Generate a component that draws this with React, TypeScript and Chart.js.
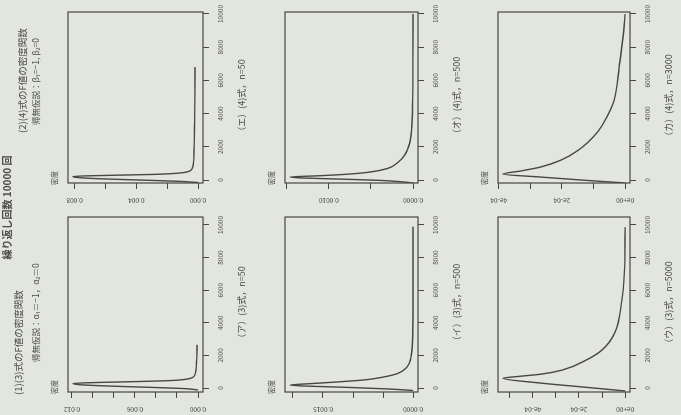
import React, { useEffect, useRef } from "react";
import { Chart, registerables } from "chart.js";

Chart.register(...registerables);

// ---------- data (page orientation: x = F value, y = density) ----------
const F_TICKS = [0, 2000, 4000, 6000, 8000, 10000];

// (ア) (3)式, n=50
const A_F = [-120, -40, 40, 120, 200, 280, 340, 400, 460, 540, 650, 850, 1200, 1700, 2200, 2650];
const A_D = [0, 0.0012, 0.0045, 0.0085, 0.0112, 0.0119, 0.0095, 0.0055, 0.0025, 0.0011, 0.0005, 0.00028, 0.00018, 0.00013, 0.0001, 0.00009];
const A_TICKS = [0, 0.002, 0.004, 0.006, 0.008, 0.01, 0.012];
const A_LABEL_VALS = [0, 0.006, 0.012];
const A_LABELS = ["0.000", "0.006", "0.012"];

// (イ) (3)式, n=500
const I_F = [-150, -60, 40, 120, 180, 270, 370, 500, 670, 900, 1290, 2000, 3400, 6000, 9900];
const I_D = [0, 0.0004, 0.0011, 0.0018, 0.00205, 0.0017, 0.00127, 0.0008, 0.0005, 0.00025, 0.0001, 0.00003, 0.000005, 0.000001, 0];
const I_TICKS = [0, 0.0005, 0.001, 0.0015, 0.002];
const I_LABEL_VALS = [0, 0.0015];
const I_LABELS = ["0.0000", "0.0015"];

// (ウ) (3)式, n=5000
const U_F = [-180, 60, 300, 600, 720, 850, 1100, 1720, 2330, 3370, 5390, 7400, 9870];
const U_D = [0, 0.000182, 0.000364, 0.00053, 0.000455, 0.000364, 0.000273, 0.000168, 0.0001, 0.000045, 0.000014, 0.000002, 0];
const U_TICKS = [0, 0.0001, 0.0002, 0.0003, 0.0004, 0.0005];
const U_LABEL_VALS = [0, 0.0002, 0.0004];
const U_LABELS = ["0e+00", "2e-04", "4e-04"];

// (エ) (4)式, n=50
const E_F = [-150, -80, 0, 80, 160, 220, 280, 340, 420, 520, 700, 1000, 2000, 3500, 5000, 6800];
const E_D = [0, 0.0012, 0.0038, 0.0065, 0.0079, 0.0081, 0.0058, 0.0028, 0.0012, 0.0006, 0.00038, 0.0003, 0.00025, 0.00022, 0.0002, 0.00019];
const E_TICKS = [0, 0.002, 0.004, 0.006, 0.008];
const E_LABEL_VALS = [0, 0.004, 0.008];
const E_LABELS = ["0.000", "0.004", "0.008"];

// (オ) (4)式, n=500
const O_F = [-180, -100, -20, 60, 120, 180, 260, 350, 480, 700, 1020, 1500, 2230, 3200, 4800, 7000, 10000];
const O_D = [0, 0.00015, 0.0004, 0.0009, 0.0013, 0.00146, 0.0011, 0.00078, 0.00051, 0.0003, 0.00019, 0.0001, 0.00004, 0.000015, 0.000005, 0.000002, 0];
const O_TICKS = [0, 0.0005, 0.001, 0.0015];
const O_LABEL_VALS = [0, 0.001];
const O_LABELS = ["0.0000", "0.0010"];

// (カ) (4)式, n=3000
const K_F = [-180, 0, 180, 360, 540, 780, 1200, 1800, 2830, 3800, 4800, 6800, 8850, 10000];
const K_D = [0, 0.000139, 0.000268, 0.000387, 0.000332, 0.000268, 0.000203, 0.000148, 0.00009, 0.000058, 0.000035, 0.000019, 0.000005, 0];
const K_TICKS = [0, 0.0001, 0.0002, 0.0003, 0.0004];
const K_LABEL_VALS = [0, 0.0002, 0.0004];
const K_LABELS = ["0e+00", "2e-04", "4e-04"];

const HEADER = "繰り返し回数 10000 回";
const TITLE_1 = "(1)(3)式のF値の密度関数";
const SUB_1 = "帰無仮説：α₁＝−1，α₂＝0";
const TITLE_2 = "(2)(4)式のF値の密度関数";
const SUB_2 = "帰無仮説：β₁=−1, β₂=0";
const Y_NAME = "密度";

// ---------- styling / layout ----------
const FONT = '"Noto Sans CJK JP", "Noto Sans", sans-serif';
const BG = "#e3e6de";
const INK = "#474745";
const TEXT = "#4c4c4c";

const LEFT_COL = { u: 23, w: 175, fmin: -245, fmax: 10490 };
const RIGHT_COL = { u: 232, w: 171, fmin: -180, fmax: 10120 };
const ROWS = [
  { v: 68, h: 135 },
  { v: 285, h: 133 },
  { v: 498, h: 132 },
];

type PanelDef = {
  f: number[];
  d: number[];
  ticks: number[];
  labelVals: number[];
  labels: string[];
  caption: string;
  col: typeof LEFT_COL;
  row: { v: number; h: number };
};

const PANELS: PanelDef[] = [
  { f: A_F, d: A_D, ticks: A_TICKS, labelVals: A_LABEL_VALS, labels: A_LABELS, caption: "（ア）(3)式，n=50", col: LEFT_COL, row: ROWS[0] },
  { f: I_F, d: I_D, ticks: I_TICKS, labelVals: I_LABEL_VALS, labels: I_LABELS, caption: "（イ）(3)式，n=500", col: LEFT_COL, row: ROWS[1] },
  { f: U_F, d: U_D, ticks: U_TICKS, labelVals: U_LABEL_VALS, labels: U_LABELS, caption: "（ウ）(3)式，n=5000", col: LEFT_COL, row: ROWS[2] },
  { f: E_F, d: E_D, ticks: E_TICKS, labelVals: E_LABEL_VALS, labels: E_LABELS, caption: "（エ）(4)式，n=50", col: RIGHT_COL, row: ROWS[0] },
  { f: O_F, d: O_D, ticks: O_TICKS, labelVals: O_LABEL_VALS, labels: O_LABELS, caption: "（オ）(4)式，n=500", col: RIGHT_COL, row: ROWS[1] },
  { f: K_F, d: K_D, ticks: K_TICKS, labelVals: K_LABEL_VALS, labels: K_LABELS, caption: "（カ）(4)式，n=3000", col: RIGHT_COL, row: ROWS[2] },
];

const ML = 40; // room for y axis
const MT = 20;
const MR = 20;
const MB = 40; // room for x axis

function Panel({ p }: { p: PanelDef }) {
  const ref = useRef<HTMLCanvasElement>(null);
  useEffect(() => {
    const canvas = ref.current;
    if (!canvas) return;
    const dmax = Math.max(...p.d);
    const boxPlugin = {
      id: "boxAndLabels",
      afterDraw(chart: any) {
        const { ctx, chartArea, scales } = chart;
        ctx.save();
        ctx.strokeStyle = INK;
        ctx.lineWidth = 1.2;
        ctx.strokeRect(
          chartArea.left,
          chartArea.top,
          chartArea.right - chartArea.left,
          chartArea.bottom - chartArea.top
        );
        ctx.fillStyle = TEXT;
        ctx.font = `6.5px ${FONT}`;
        ctx.textAlign = "center";
        ctx.textBaseline = "middle";
        p.labelVals.forEach((v, i) => {
          const y = scales.y.getPixelForValue(v);
          ctx.save();
          ctx.translate(chartArea.left - 17, y);
          ctx.rotate(-Math.PI / 2);
          ctx.fillText(p.labels[i], 0, 0);
          ctx.restore();
        });
        ctx.restore();
      },
    };
    const chart = new Chart(canvas, {
      type: "scatter",
      data: {
        datasets: [
          {
            data: p.f.map((x, i) => ({ x, y: p.d[i] })),
            showLine: true,
            borderColor: INK,
            borderWidth: 1.4,
            pointRadius: 0,
            cubicInterpolationMode: "monotone",
            fill: false,
          } as any,
        ],
      },
      options: {
        animation: false,
        responsive: false,
        devicePixelRatio: 1,
        events: [],
        layout: { padding: { left: 0, top: MT, right: MR, bottom: 0 }, autoPadding: false } as any,
        plugins: {
          legend: { display: false },
          tooltip: { enabled: false },
          title: { display: false },
        },
        scales: {
          x: {
            type: "linear",
            min: p.col.fmin,
            max: p.col.fmax,
            afterBuildTicks: (s: any) => {
              s.ticks = F_TICKS.map((value) => ({ value }));
            },
            afterFit: (s: any) => {
              s.height = MB;
            },
            grid: { display: true, drawOnChartArea: false, drawTicks: true, tickLength: 6, color: INK, lineWidth: 1 },
            border: { display: false },
            ticks: {
              color: TEXT,
              font: { size: 6.5, family: FONT },
              padding: 8,
              maxRotation: 0,
              minRotation: 0,
              autoSkip: false,
              callback: (v: any) => String(v),
            },
          },
          y: {
            type: "linear",
            min: -0.04 * dmax,
            max: 1.04 * dmax,
            afterBuildTicks: (s: any) => {
              s.ticks = p.ticks.map((value) => ({ value }));
            },
            afterFit: (s: any) => {
              s.width = ML;
            },
            grid: { display: true, drawOnChartArea: false, drawTicks: true, tickLength: 6, color: INK, lineWidth: 1 },
            border: { display: false },
            ticks: { display: false },
          },
        },
      },
      plugins: [boxPlugin],
    });
    return () => chart.destroy();
  }, [p]);
  return (
    <canvas
      ref={ref}
      width={p.col.w + ML + MR}
      height={p.row.h + MT + MB}
      style={{ position: "absolute", left: p.col.u - ML, top: p.row.v - MT }}
    />
  );
}

export default function App() {
  useEffect(() => {
    document.body.style.margin = "0";
    document.body.style.background = BG;
  }, []);
  const txt = (extra: React.CSSProperties): React.CSSProperties => ({
    position: "absolute",
    whiteSpace: "nowrap",
    color: TEXT,
    fontFamily: FONT,
    lineHeight: 1,
    ...extra,
  });
  return (
    <div
      style={{
        position: "fixed",
        left: 0,
        top: 0,
        width: 415,
        height: 681,
        background: BG,
        transformOrigin: "0 0",
        transform: "translate(0px, 415px) rotate(-90deg)",
        overflow: "hidden",
      }}
    >
      <div style={txt({ left: 0, width: 415, textAlign: "center", top: 2, fontSize: 10, fontWeight: 700 })}>{HEADER}</div>
      <div style={txt({ left: 20, top: 14, fontSize: 9.5 })}>{TITLE_1}</div>
      <div style={txt({ left: 53, top: 31, fontSize: 8.5 })}>{SUB_1}</div>
      <div style={txt({ left: 282, top: 18, fontSize: 9.5 })}>{TITLE_2}</div>
      <div style={txt({ left: 290, top: 31, fontSize: 8.5 })}>{SUB_2}</div>
      {PANELS.map((p, i) => (
        <React.Fragment key={i}>
          <Panel p={p} />
          <div style={txt({ left: p.col.u - 2, top: p.row.v - 17, fontSize: 7 })}>{Y_NAME}</div>
          <div
            style={txt({
              left: p.col.u,
              width: p.col.w,
              textAlign: "center",
              top: p.row.v + p.row.h + 34,
              fontSize: 9,
            })}
          >
            {p.caption}
          </div>
        </React.Fragment>
      ))}
    </div>
  );
}
